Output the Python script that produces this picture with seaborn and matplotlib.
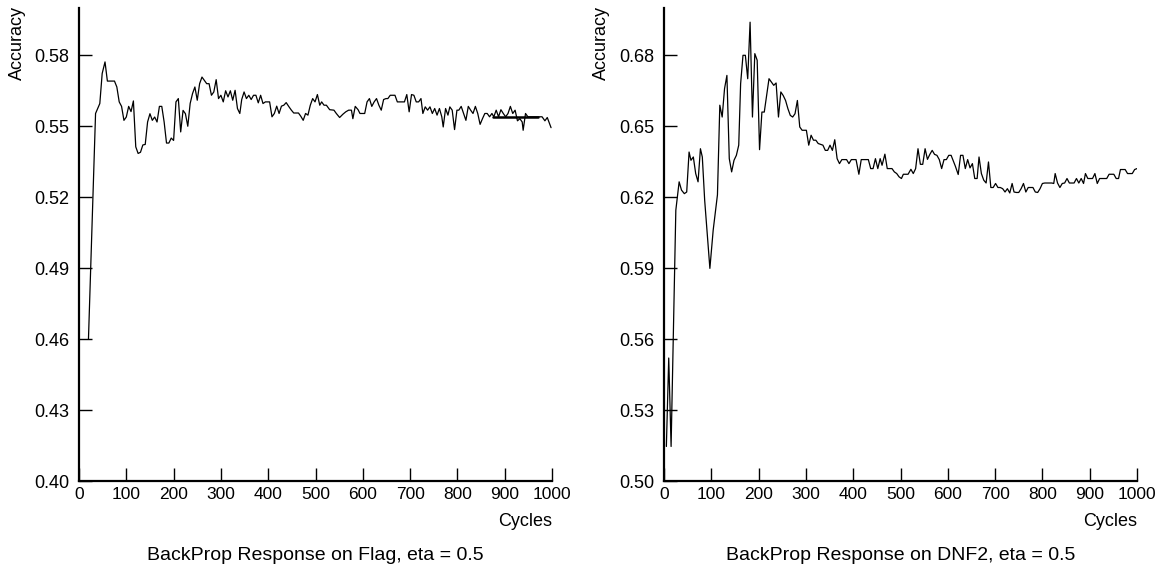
import matplotlib
matplotlib.use("Agg")
import matplotlib.pyplot as plt
import seaborn as sns
import pandas as pd

# ---------------- data ----------------
flag_cycles = [20, 35, 44, 49, 55, 60, 75, 80, 85, 90, 95, 100, 105, 110, 115, 120, 125, 130, 135, 140,
               145, 150, 155, 160, 165, 170, 175, 180, 185, 190, 195, 200, 205, 210, 215, 220, 225, 230,
               235, 240, 245, 250, 255, 260, 270, 275, 280, 285, 290, 295, 300, 305, 310, 315, 320, 325,
               330, 335, 340, 344, 349, 354, 359, 364, 369, 374, 379, 384, 389, 394, 403, 408, 413, 418,
               423, 428, 433, 438, 444, 449, 454, 464, 469, 474, 479, 484, 489, 494, 499, 504, 509, 513,
               518, 523, 530, 539, 544, 551, 558, 564, 570, 576, 579, 584, 590, 594, 604, 609, 614, 619,
               624, 629, 634, 639, 644, 649, 653, 658, 668, 673, 688, 693, 698, 703, 708, 713, 718, 723,
               727, 732, 737, 742, 747, 752, 757, 762, 767, 770, 775, 780, 784, 789, 794, 799, 803, 808,
               813, 818, 823, 828, 833, 838, 843, 848, 853, 858, 863, 868, 873, 877, 882, 887, 892, 897,
               902, 907, 912, 917, 922, 927, 932, 937, 939, 944, 949, 972, 979, 985, 990, 998]
flag_accuracy = [0.4600, 0.5554, 0.5596, 0.5723, 0.5772, 0.5691, 0.5691, 0.5666, 0.5603, 0.5584,
                 0.5525, 0.5539, 0.5584, 0.5562, 0.5607, 0.5413, 0.5385, 0.5390, 0.5421, 0.5423,
                 0.5518, 0.5553, 0.5525, 0.5539, 0.5518, 0.5584, 0.5584, 0.5518, 0.5429, 0.5429,
                 0.5450, 0.5440, 0.5603, 0.5617, 0.5476, 0.5567, 0.5553, 0.5500, 0.5596, 0.5638,
                 0.5666, 0.5610, 0.5680, 0.5708, 0.5680, 0.5680, 0.5631, 0.5645, 0.5697, 0.5617,
                 0.5631, 0.5603, 0.5650, 0.5624, 0.5650, 0.5610, 0.5652, 0.5575, 0.5554, 0.5613,
                 0.5645, 0.5617, 0.5631, 0.5613, 0.5631, 0.5631, 0.5599, 0.5631, 0.5596, 0.5603,
                 0.5603, 0.5540, 0.5554, 0.5585, 0.5554, 0.5585, 0.5589, 0.5600, 0.5582, 0.5568,
                 0.5556, 0.5556, 0.5542, 0.5525, 0.5554, 0.5547, 0.5589, 0.5617, 0.5603, 0.5634,
                 0.5589, 0.5603, 0.5589, 0.5589, 0.5570, 0.5568, 0.5554, 0.5537, 0.5551, 0.5561,
                 0.5568, 0.5568, 0.5532, 0.5584, 0.5570, 0.5554, 0.5554, 0.5603, 0.5617, 0.5584,
                 0.5603, 0.5617, 0.5589, 0.5568, 0.5613, 0.5617, 0.5617, 0.5631, 0.5631, 0.5603,
                 0.5603, 0.5634, 0.5561, 0.5634, 0.5631, 0.5603, 0.5603, 0.5617, 0.5554, 0.5582,
                 0.5568, 0.5582, 0.5554, 0.5575, 0.5547, 0.5575, 0.5540, 0.5497, 0.5575, 0.5547,
                 0.5582, 0.5568, 0.5486, 0.5568, 0.5568, 0.5584, 0.5554, 0.5525, 0.5584, 0.5568,
                 0.5554, 0.5584, 0.5554, 0.5508, 0.5532, 0.5554, 0.5554, 0.5540, 0.5554, 0.5540,
                 0.5568, 0.5540, 0.5570, 0.5554, 0.5540, 0.5554, 0.5584, 0.5554, 0.5568, 0.5523,
                 0.5532, 0.5518, 0.5483, 0.5554, 0.5540, 0.5540, 0.5540, 0.5523, 0.5537, 0.5494]
flag_ref_cycles = [875, 971]
flag_ref_accuracy = [0.554, 0.554]

dnf2_cycles = [5, 10, 15, 25, 32, 37, 43, 48, 53, 57, 62, 67, 72, 77, 81, 86, 97, 104, 113, 118,
               123, 128, 133, 138, 143, 148, 153, 158, 162, 167, 172, 177, 182, 187, 192, 197, 202,
               207, 212, 217, 222, 227, 232, 237, 242, 247, 252, 257, 262, 267, 272, 277, 282, 287,
               292, 301, 306, 311, 316, 321, 326, 336, 341, 346, 351, 356, 361, 366, 371, 376, 386,
               391, 396, 406, 412, 417, 432, 437, 442, 447, 452, 457, 461, 467, 472, 482, 487, 492,
               497, 502, 506, 516, 522, 527, 532, 537, 542, 547, 552, 557, 562, 567, 572, 577, 582,
               587, 592, 597, 602, 607, 611, 616, 622, 627, 632, 637, 642, 647, 652, 657, 662, 666,
               671, 676, 681, 686, 691, 696, 701, 706, 711, 716, 721, 726, 731, 736, 740, 745, 750,
               755, 760, 765, 770, 780, 785, 790, 795, 800, 805, 820, 824, 827, 832, 837, 842, 847,
               852, 857, 867, 872, 877, 882, 887, 891, 896, 906, 911, 916, 921, 936, 941, 951, 956,
               961, 965, 975, 980, 990, 995, 1000]
dnf2_accuracy = [0.5146, 0.5520, 0.5146, 0.6145, 0.6265, 0.6230, 0.6215, 0.6222, 0.6391, 0.6356,
                 0.6370, 0.6300, 0.6265, 0.6405, 0.6370, 0.6187, 0.5899, 0.6061, 0.6210, 0.6589,
                 0.6539, 0.6659, 0.6715, 0.6363, 0.6307, 0.6356, 0.6377, 0.6420, 0.6680, 0.6800,
                 0.6800, 0.6701, 0.6940, 0.6539, 0.6807, 0.6779, 0.6401, 0.6560, 0.6560, 0.6630,
                 0.6701, 0.6687, 0.6673, 0.6683, 0.6539, 0.6645, 0.6630, 0.6609, 0.6574, 0.6546,
                 0.6539, 0.6553, 0.6609, 0.6497, 0.6483, 0.6483, 0.6420, 0.6462, 0.6441, 0.6441,
                 0.6427, 0.6420, 0.6398, 0.6398, 0.6420, 0.6398, 0.6443, 0.6363, 0.6342, 0.6359,
                 0.6359, 0.6342, 0.6359, 0.6359, 0.6297, 0.6359, 0.6359, 0.6321, 0.6321, 0.6363,
                 0.6321, 0.6363, 0.6335, 0.6382, 0.6321, 0.6321, 0.6307, 0.6300, 0.6286, 0.6279,
                 0.6297, 0.6297, 0.6318, 0.6300, 0.6321, 0.6405, 0.6339, 0.6339, 0.6405, 0.6360,
                 0.6381, 0.6398, 0.6381, 0.6377, 0.6359, 0.6321, 0.6359, 0.6359, 0.6377, 0.6377,
                 0.6356, 0.6331, 0.6296, 0.6377, 0.6377, 0.6321, 0.6359, 0.6324, 0.6342, 0.6279,
                 0.6279, 0.6370, 0.6300, 0.6272, 0.6260, 0.6349, 0.6241, 0.6241, 0.6258, 0.6241,
                 0.6241, 0.6236, 0.6222, 0.6236, 0.6218, 0.6258, 0.6222, 0.6220, 0.6220, 0.6236,
                 0.6258, 0.6222, 0.6241, 0.6241, 0.6222, 0.6220, 0.6236, 0.6258, 0.6260, 0.6260,
                 0.6258, 0.6300, 0.6260, 0.6241, 0.6258, 0.6260, 0.6279, 0.6260, 0.6260, 0.6279,
                 0.6260, 0.6279, 0.6258, 0.6300, 0.6279, 0.6279, 0.6300, 0.6258, 0.6279, 0.6279,
                 0.6297, 0.6297, 0.6279, 0.6279, 0.6317, 0.6317, 0.6300, 0.6300, 0.6317, 0.6321]

x_ticks = [0, 100, 200, 300, 400, 500, 600, 700, 800, 900, 1000]
flag_yticks = [0.40, 0.43, 0.46, 0.49, 0.52, 0.55, 0.58]
dnf2_yticks = [0.50, 0.53, 0.56, 0.59, 0.62, 0.65, 0.68]
flag_ylim = (0.40, 0.60)
dnf2_ylim = (0.50, 0.70)
titles = ["BackProp Response on Flag, eta = 0.5", "BackProp Response on DNF2, eta = 0.5"]
y_label = "Accuracy"
x_label = "Cycles"

# ---------------- figure ----------------
sns.set_theme(style="white")
plt.rcParams["font.family"] = ["Liberation Sans", "DejaVu Sans"]

W, H = 1162, 569
fig = plt.figure(figsize=(W / 100, H / 100), dpi=100)
fig.patch.set_facecolor("white")

ax_bottom = 1 - 481 / H
ax_h = (481 - 8) / H
ax1 = fig.add_axes([79 / W, ax_bottom, 473 / W, ax_h])
ax2 = fig.add_axes([664 / W, ax_bottom, 473 / W, ax_h])

df1 = pd.DataFrame({"Cycles": flag_cycles, "Accuracy": flag_accuracy})
df2 = pd.DataFrame({"Cycles": dnf2_cycles, "Accuracy": dnf2_accuracy})

sns.lineplot(data=df1, x="Cycles", y="Accuracy", ax=ax1, color="black", linewidth=0.9,
             estimator=None)
sns.lineplot(x=flag_ref_cycles, y=flag_ref_accuracy, ax=ax1, color="black", linewidth=1.8,
             estimator=None)
sns.lineplot(data=df2, x="Cycles", y="Accuracy", ax=ax2, color="black", linewidth=0.9,
             estimator=None)

FS_XTICK = 12.5
FS_YTICK = 13
FS_LABEL = 13
FS_TITLE = 14
for ax, yt, yl, title, ylab_x in [(ax1, flag_yticks, flag_ylim, titles[0], 17),
                                   (ax2, dnf2_yticks, dnf2_ylim, titles[1], 601)]:
    ax.set_facecolor("white")
    ax.set_xlim(0, 1000)
    ax.set_ylim(*yl)
    ax.set_xticks(x_ticks)
    ax.set_xticklabels([str(t) for t in x_ticks])
    ax.set_yticks(yt)
    ax.set_yticklabels([f"{t:.2f}" for t in yt])
    ax.set_xlabel("")
    ax.set_ylabel("")
    for s in ["top", "right"]:
        ax.spines[s].set_visible(False)
    for s in ["left", "bottom"]:
        ax.spines[s].set_color("black")
        ax.spines[s].set_linewidth(1.6)
    ax.tick_params(axis="both", direction="in", length=9.5, width=1.0, color="black",
                   labelcolor="black", left=True, bottom=True)
    ax.tick_params(axis="x", pad=4, labelsize=FS_XTICK)
    ax.tick_params(axis="y", pad=7, labelsize=FS_YTICK)
    ax.grid(False)
    # "Cycles" label at right end under ticks
    ax.text(1.0, (481 - 522) / 473, x_label, transform=ax.transAxes, ha="right", va="center",
            fontsize=FS_LABEL, color="black")
    # title below
    ax.text(0.5, (481 - 555) / 473, title, transform=ax.transAxes, ha="center", va="center",
            fontsize=FS_TITLE, color="black")
    fig.text(ylab_x / W, 1 - 6 / H, y_label, rotation=90, ha="center", va="top",
             fontsize=FS_LABEL, color="black")

fig.savefig("out.png", dpi=100, facecolor="white")
